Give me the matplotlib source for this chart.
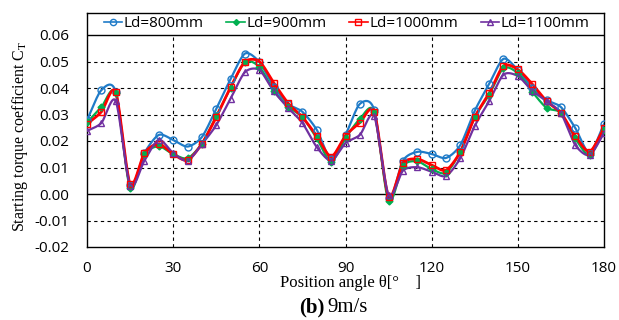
import numpy as np
import matplotlib
matplotlib.use("Agg")
import matplotlib.pyplot as plt

theta = list(range(0, 181, 5))

ld800 = [0.0279, 0.0392, 0.0386, 0.0035, 0.0155, 0.0223, 0.0204, 0.0179, 0.0215, 0.0321,
         0.0434, 0.0530, 0.0498, 0.0405, 0.0340, 0.0310, 0.0242, 0.0132, 0.0223, 0.0340,
         0.0317, -0.0015, 0.0126, 0.0159, 0.0151, 0.0136, 0.0185, 0.0314, 0.0415, 0.0510,
         0.0468, 0.0400, 0.0355, 0.0328, 0.0249, 0.0155, 0.0264]
ld900 = [0.0270, 0.0328, 0.0381, 0.0022, 0.0150, 0.0180, 0.0150, 0.0135, 0.0190, 0.0294,
         0.0400, 0.0498, 0.0480, 0.0390, 0.0330, 0.0290, 0.0210, 0.0122, 0.0211, 0.0283,
         0.0310, -0.0028, 0.0106, 0.0123, 0.0094, 0.0080, 0.0160, 0.0290, 0.0374, 0.0475,
         0.0456, 0.0386, 0.0325, 0.0306, 0.0210, 0.0147, 0.0240]
ld1000 = [0.0264, 0.0310, 0.0385, 0.0038, 0.0155, 0.0189, 0.0150, 0.0128, 0.0190, 0.0290,
          0.0403, 0.0499, 0.0500, 0.0420, 0.0343, 0.0290, 0.0219, 0.0141, 0.0220, 0.0269,
          0.0310, -0.0010, 0.0116, 0.0132, 0.0109, 0.0090, 0.0160, 0.0290, 0.0380, 0.0483,
          0.0470, 0.0415, 0.0350, 0.0306, 0.0219, 0.0160, 0.0249]
ld1100 = [0.0238, 0.0268, 0.0351, 0.0032, 0.0126, 0.0205, 0.0154, 0.0126, 0.0188, 0.0260,
          0.0360, 0.0460, 0.0468, 0.0388, 0.0325, 0.0268, 0.0177, 0.0126, 0.0192, 0.0223,
          0.0294, -0.0005, 0.0088, 0.0101, 0.0084, 0.0068, 0.0136, 0.0257, 0.0350, 0.0450,
          0.0445, 0.0390, 0.0350, 0.0305, 0.0185, 0.0147, 0.0230]

labels = ["Ld=800mm", "Ld=900mm", "Ld=1000mm", "Ld=1100mm"]
series = [ld800, ld900, ld1000, ld1100]
colors = ["#1F7BC8", "#00B050", "#FF0000", "#7030A0"]
markers = ["o", "D", "s", "^"]
msizes = [5, 3.5, 5, 5]
lws = [1.6, 1.6, 2.0, 1.6]
xticks = [0, 30, 60, 90, 120, 150, 180]
yticks = [-0.02, -0.01, 0.00, 0.01, 0.02, 0.03, 0.04, 0.05, 0.06]


def smooth(x, y, n=20, s=0.8):
    x = np.asarray(x, float)
    y = np.asarray(y, float)
    t = np.linspace(0, 1, n, endpoint=False)
    h00 = 2 * t ** 3 - 3 * t ** 2 + 1
    h10 = t ** 3 - 2 * t ** 2 + t
    h01 = -2 * t ** 3 + 3 * t ** 2
    h11 = t ** 3 - t ** 2

    def tangents(p):
        m = np.zeros_like(p)
        m[1:-1] = s * (p[2:] - p[:-2]) / 2
        m[0] = s * (p[1] - p[0])
        m[-1] = s * (p[-1] - p[-2])
        return m

    mx, my = tangents(x), tangents(y)
    xs, ys = [], []
    for i in range(len(x) - 1):
        xs.extend(h00 * x[i] + h10 * mx[i] + h01 * x[i + 1] + h11 * mx[i + 1])
        ys.extend(h00 * y[i] + h10 * my[i] + h01 * y[i + 1] + h11 * my[i + 1])
    xs.append(x[-1])
    ys.append(y[-1])
    return np.array(xs), np.array(ys)


fig = plt.figure(figsize=(6.19, 3.20), dpi=100)
ax = fig.add_axes([87 / 619, 1 - 247 / 320, (604 - 87) / 619, (247 - 13) / 320])

ytop = 0.06 + 22 / 26.5 * 0.01
ax.set_xlim(0, 180)
ax.set_ylim(-0.02, ytop)

for xv in xticks[1:-1]:
    ax.plot([xv, xv], [-0.02, 0.06], ls=(0, (3, 3)), color="black", lw=0.8, zorder=1)
for yv in yticks[1:-1]:
    if abs(yv) < 1e-9:
        ax.axhline(yv, color="black", lw=1.0, zorder=1)
    else:
        ax.axhline(yv, ls=(0, (3, 3)), color="black", lw=0.8, zorder=1)
ax.axhline(0.06, color="black", lw=1.0, zorder=1)

handles = []
for ys, lab, c, m, ms, lw in zip(series, labels, colors, markers, msizes, lws):
    sx, sy = smooth(theta, ys)
    ax.plot(sx, sy, color=c, lw=lw, zorder=3)
    ax.plot(theta, ys, ls="none", marker=m, ms=ms, mfc="none" if m != "D" else c,
            mec=c, mew=1.0, zorder=4)
    h, = ax.plot([], [], color=c, lw=1.2, marker=m, ms=ms - 0.5, mfc="none" if m != "D" else c,
                 mec=c, mew=1.0)
    handles.append(h)

ax.set_xticks(xticks)
ax.set_yticks(yticks)
ax.set_yticklabels([f"{v:.2f}" for v in yticks])
ax.tick_params(axis="x", length=0, labelsize=11, pad=10)
ax.tick_params(axis="y", length=0, labelsize=11, pad=13)
for lab in ax.get_xticklabels() + ax.get_yticklabels():
    lab.set_fontfamily("Open Sans")
for sp in ax.spines.values():
    sp.set_color("black")
    sp.set_linewidth(1.0)

leg = ax.legend(handles, labels, ncol=4, loc="center", bbox_to_anchor=(0.502, 1 - 10.5 / 234),
                frameon=False, handlelength=1.2, handletextpad=0.1,
                columnspacing=1.5, prop={"family": "Open Sans", "size": 11})

fig.text(20 / 619, 1 - 136 / 320, "Starting torque coefficient C$_\\mathrm{T}$", rotation=90,
         ha="center", va="center", fontsize=11.5, family="Liberation Serif",
         math_fontfamily="stix")
fig.text(350 / 619, 1 - 283 / 320, "Position angle θ[°    ]", ha="center", va="center",
         fontsize=12, family="Liberation Serif")
fig.text(324 / 619, 1 - 307 / 320, "(b)", ha="right", va="center", fontsize=15,
         family="Liberation Serif", weight="bold")
fig.text(327 / 619, 1 - 307 / 320, "9m/s", ha="left", va="center", fontsize=15,
         family="Liberation Serif")

fig.savefig("out.png", dpi=100)
